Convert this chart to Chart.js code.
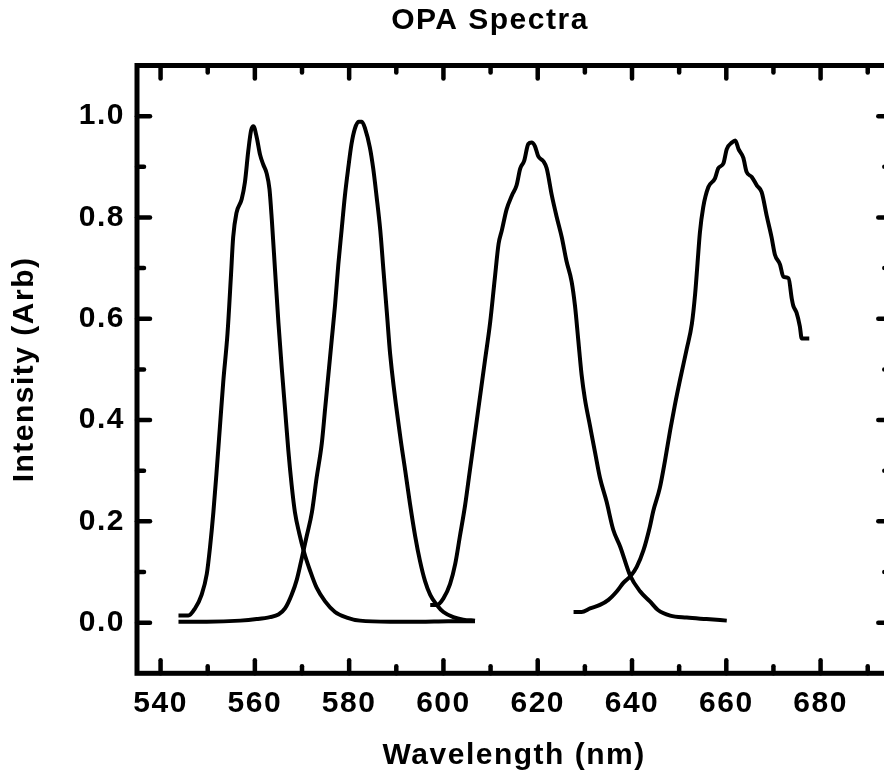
<!DOCTYPE html>
<html>
<head>
<meta charset="utf-8">
<script src="https://cdn.jsdelivr.net/npm/chart.js@4.4.1/dist/chart.umd.min.js"></script>
<style>
html,body{margin:0;padding:0;overflow:hidden;background:#fff;}
#wrap{width:900px;height:781px;position:relative;}
</style>
</head>
<body>
<div id="wrap"><canvas id="c"></canvas></div>
<script>
// ---- text ----
const chartTitle = 'OPA Spectra';
const xTitle = 'Wavelength (nm)';
const yTitle = 'Intensity (Arb)';

// ---- axes ----
const xMin = 535, xMax = 695;
const yMin = -0.1, yMax = 1.1;
const xMajorTicks = [540, 560, 580, 600, 620, 640, 660, 680];
const xMinorTicks = [550, 570, 590, 610, 630, 650, 670, 690];
const yMajorTicks = [0.0, 0.2, 0.4, 0.6, 0.8, 1.0];
const yMinorTicks = [0.1, 0.3, 0.5, 0.7, 0.9];

// ---- spectrum 1 (~560 nm) ----
const wl1 = [543.8, 545.9, 547.3, 548.7, 549.8, 550.5, 551.2, 551.9, 552.6, 553.3, 554.2, 554.9, 555.4, 556.1, 557.2, 557.9, 558.6, 559.2, 559.7, 560.4, 561.1, 561.8, 562.5, 563.1, 563.6, 564.3, 565.0, 565.7, 566.4, 567.1, 567.8, 568.5, 569.4, 570.5, 571.7, 573.1, 574.9, 577.0, 579.5, 582.3, 588.7, 595.0, 601.0, 606.7];
const int1 = [0.014, 0.014, 0.028, 0.055, 0.096, 0.150, 0.218, 0.300, 0.388, 0.476, 0.571, 0.680, 0.761, 0.809, 0.836, 0.870, 0.931, 0.972, 0.980, 0.958, 0.924, 0.904, 0.887, 0.856, 0.795, 0.693, 0.592, 0.503, 0.422, 0.340, 0.272, 0.218, 0.177, 0.137, 0.103, 0.069, 0.042, 0.021, 0.010, 0.004, 0.002, 0.002, 0.003, 0.003];

// ---- spectrum 2 (~582 nm) ----
const wl2 = [543.8, 549.8, 556.9, 560.4, 563.2, 565.0, 566.4, 567.8, 568.9, 569.9, 571.0, 572.1, 573.1, 574.2, 574.9, 575.6, 576.3, 577.0, 577.7, 578.4, 579.1, 579.8, 580.5, 581.2, 582.0, 582.7, 583.4, 584.4, 585.1, 585.8, 586.6, 587.3, 588.0, 588.7, 590.8, 591.9, 592.9, 594.0, 595.0, 596.1, 597.2, 598.6, 600.0, 602.1, 604.2, 606.7];
const int2 = [0.002, 0.002, 0.004, 0.007, 0.011, 0.016, 0.028, 0.055, 0.085, 0.125, 0.171, 0.218, 0.286, 0.354, 0.422, 0.490, 0.558, 0.626, 0.707, 0.775, 0.843, 0.897, 0.945, 0.975, 0.989, 0.989, 0.975, 0.938, 0.897, 0.843, 0.775, 0.693, 0.612, 0.530, 0.370, 0.300, 0.235, 0.171, 0.123, 0.082, 0.055, 0.035, 0.021, 0.011, 0.006, 0.004];

// ---- spectrum 3 (~618 nm) ----
const wl3 = [597.2, 598.6, 600.0, 601.4, 602.5, 603.5, 604.6, 605.6, 606.7, 607.8, 608.8, 609.9, 610.9, 611.7, 612.4, 613.4, 614.5, 615.5, 616.3, 617.1, 618.0, 618.7, 619.4, 620.1, 621.2, 621.9, 623.0, 624.0, 625.1, 626.1, 627.2, 627.9, 628.6, 629.3, 630.0, 631.1, 632.2, 633.2, 634.6, 636.0, 637.5, 639.6, 641.7, 643.8, 645.5, 648.1, 651.6, 655.8, 660.1];
const int3 = [0.035, 0.035, 0.048, 0.076, 0.116, 0.171, 0.232, 0.300, 0.374, 0.449, 0.517, 0.592, 0.680, 0.748, 0.775, 0.816, 0.843, 0.863, 0.897, 0.911, 0.945, 0.948, 0.941, 0.921, 0.911, 0.897, 0.843, 0.802, 0.761, 0.714, 0.673, 0.626, 0.558, 0.490, 0.442, 0.388, 0.334, 0.286, 0.239, 0.184, 0.150, 0.093, 0.062, 0.042, 0.025, 0.014, 0.010, 0.007, 0.004];

// ---- spectrum 4 (~662 nm) ----
const wl4 = [627.6, 629.3, 631.1, 633.2, 635.0, 636.8, 638.2, 639.8, 641.0, 642.4, 643.8, 644.5, 645.9, 647.0, 648.1, 649.1, 650.2, 651.6, 652.7, 653.4, 653.9, 654.4, 655.1, 656.2, 657.6, 658.3, 659.4, 660.1, 661.2, 661.9, 662.6, 663.6, 664.3, 665.4, 666.5, 667.5, 668.6, 669.6, 670.3, 671.4, 672.1, 673.2, 673.9, 674.2, 674.9, 675.6, 676.0, 677.6];
const int4 = [0.021, 0.021, 0.028, 0.035, 0.045, 0.062, 0.079, 0.093, 0.110, 0.142, 0.190, 0.220, 0.266, 0.320, 0.380, 0.430, 0.480, 0.540, 0.590, 0.650, 0.710, 0.770, 0.820, 0.860, 0.877, 0.897, 0.907, 0.935, 0.948, 0.952, 0.935, 0.918, 0.890, 0.880, 0.863, 0.850, 0.802, 0.761, 0.727, 0.707, 0.683, 0.680, 0.639, 0.626, 0.612, 0.585, 0.561, 0.561];

const FONT = "'Liberation Sans', Arial, Helvetica, sans-serif";
const FSIZE = 30;
const pairs = (xs, ys) => xs.map((x, i) => ({x: x, y: ys[i]}));
const mkSet = (xs, ys) => ({
  data: pairs(xs, ys), showLine: true, borderColor: '#000', borderWidth: 4,
  pointRadius: 0, cubicInterpolationMode: 'monotone', fill: false
});

const spacingPlugin = {
  id: 'spacing',
  beforeUpdate(chart) { chart.ctx.letterSpacing = '1.5px'; },
  beforeDraw(chart) { chart.ctx.letterSpacing = '1.5px'; }
};

const framePlugin = {
  id: 'frame',
  afterDraw(chart) {
    const ctx = chart.ctx, a = chart.chartArea;
    const xs = chart.scales.x, ys = chart.scales.y;
    ctx.save();
    ctx.strokeStyle = '#000';
    ctx.lineCap = 'round';
    ctx.lineWidth = 4.5;
    const MAJ = 13, MIN = 7;
    const vt = (v, len) => {
      const p = xs.getPixelForValue(v);
      ctx.beginPath(); ctx.moveTo(p, a.bottom); ctx.lineTo(p, a.bottom - len); ctx.stroke();
      ctx.beginPath(); ctx.moveTo(p, a.top); ctx.lineTo(p, a.top + len); ctx.stroke();
    };
    const ht = (v, len) => {
      const p = ys.getPixelForValue(v);
      ctx.beginPath(); ctx.moveTo(a.left, p); ctx.lineTo(a.left + len, p); ctx.stroke();
      ctx.beginPath(); ctx.moveTo(a.right, p); ctx.lineTo(a.right - len, p); ctx.stroke();
    };
    xMajorTicks.forEach(v => vt(v, MAJ));
    xMinorTicks.forEach(v => vt(v, MIN));
    yMajorTicks.forEach(v => ht(v, MAJ));
    yMinorTicks.forEach(v => ht(v, MIN));
    ctx.lineCap = 'square';
    ctx.lineWidth = 5;
    ctx.strokeRect(a.left, a.top, a.right - a.left, a.bottom - a.top);
    // chart title
    ctx.fillStyle = '#000';
    ctx.font = 'bold ' + FSIZE + 'px ' + FONT;
    ctx.textAlign = 'center';
    ctx.textBaseline = 'alphabetic';
    ctx.fillText(chartTitle, 490, 29);
    ctx.restore();
  }
};

Chart.defaults.color = '#000';
new Chart(document.getElementById('c'), {
  type: 'scatter',
  data: { datasets: [mkSet(wl1, int1), mkSet(wl2, int2), mkSet(wl3, int3), mkSet(wl4, int4)] },
  options: {
    responsive: true, maintainAspectRatio: false, animation: false,
    layout: { padding: { top: 65.5, right: 8.7, left: 0, bottom: 0 } },
    plugins: { legend: { display: false }, tooltip: { enabled: false }, title: { display: false } },
    scales: {
      x: {
        type: 'linear', min: xMin, max: xMax,
        grid: { display: false, drawTicks: false }, border: { display: false },
        afterBuildTicks: s => { s.ticks = xMajorTicks.map(v => ({value: v})); },
        afterFit: s => { s.height = 107.7; },
        ticks: { padding: 12.5, font: { family: FONT, size: FSIZE, weight: 'bold' }, color: '#000',
                 callback: v => String(v), maxRotation: 0, autoSkip: false },
        title: { display: true, text: xTitle, color: '#000', padding: { top: 0, bottom: 7.2 },
                 font: { family: FONT, size: FSIZE, weight: 'bold' } }
      },
      y: {
        type: 'linear', min: yMin, max: yMax,
        grid: { display: false, drawTicks: false }, border: { display: false },
        afterBuildTicks: s => { s.ticks = yMajorTicks.map(v => ({value: v})); },
        afterFit: s => { s.width = 137; },
        ticks: { padding: 12, font: { family: FONT, size: FSIZE, weight: 'bold' }, color: '#000',
                 callback: v => Number(v).toFixed(1), autoSkip: false },
        title: { display: true, text: yTitle, color: '#000', padding: { top: 7, bottom: 0 },
                 font: { family: FONT, size: FSIZE, weight: 'bold' } }
      }
    }
  },
  plugins: [spacingPlugin, framePlugin]
});
</script>
</body>
</html>
